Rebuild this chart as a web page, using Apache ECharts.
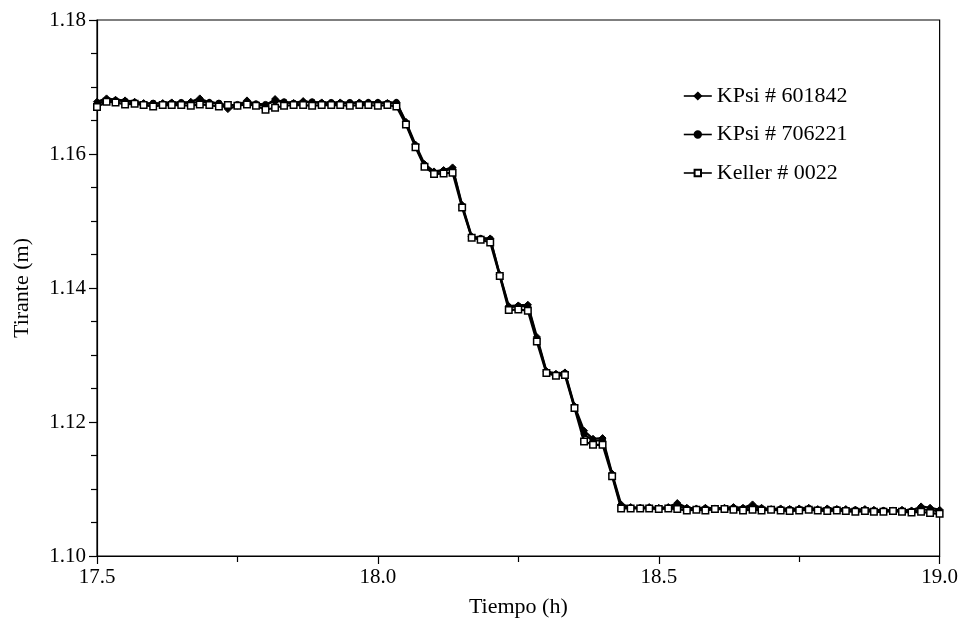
<!DOCTYPE html>
<html>
<head>
<meta charset="utf-8">
<script src="https://cdn.jsdelivr.net/npm/echarts@6/dist/echarts.min.js"></script>
<style>html,body{margin:0;padding:0;background:#fff}#c{width:961px;height:624px}</style>
</head>
<body>
<div id="c"></div>
<script>
const seriesNames = ['KPsi # 601842', 'KPsi # 706221', 'Keller # 0022'];
const xTicks = [17.5, 18.0, 18.5, 19.0];
const yTicks = [1.10, 1.12, 1.14, 1.16, 1.18];
const times = [
  17.500,17.517,17.533,17.550,17.567,17.583,
  17.600,17.617,17.633,17.650,17.667,17.683,
  17.700,17.717,17.733,17.750,17.767,17.783,
  17.800,17.817,17.833,17.850,17.867,17.883,
  17.900,17.917,17.933,17.950,17.967,17.983,
  18.000,18.017,18.033,18.050,18.067,18.083,
  18.100,18.117,18.133,18.150,18.167,18.183,
  18.200,18.217,18.233,18.250,18.267,18.283,
  18.300,18.317,18.333,18.350,18.367,18.383,
  18.400,18.417,18.433,18.450,18.467,18.483,
  18.500,18.517,18.533,18.550,18.567,18.583,
  18.600,18.617,18.633,18.650,18.667,18.683,
  18.700,18.717,18.733,18.750,18.767,18.783,
  18.800,18.817,18.833,18.850,18.867,18.883,
  18.900,18.917,18.933,18.950,18.967,18.983,
  19.000
];
const kpsi601842 = [
  1.1678,1.1683,1.1681,1.1680,1.1678,1.1676,1.1675,1.1676,1.1677,1.1676,1.1678,1.1683,1.1677,1.1675,1.1667,1.1672,
  1.1680,1.1674,1.1672,1.1682,1.1677,1.1676,1.1679,1.1677,1.1677,1.1676,1.1677,1.1676,1.1677,1.1677,1.1677,1.1676,1.1677,
  1.1648,1.1614,1.1585,1.1574,1.1576,1.1580,1.1524,1.1477,1.1474,1.1474,1.1420,1.1373,1.1374,1.1375,1.1327,1.1276,
  1.1272,1.1274,1.1224,1.1187,1.1175,1.1176,1.1123,1.1077,
  1.1073,1.1072,1.1073,1.1072,1.1073,1.1079,1.1072,1.1071,1.1072,1.1071,1.1072,1.1073,1.1072,1.1077,1.1072,1.1070,
  1.1071,1.1070,1.1071,1.1072,1.1070,1.1071,1.1070,1.1070,1.1069,1.1070,1.1069,1.1068,1.1068,1.1069,1.1068,1.1074,
  1.1072,1.1069
];
const kpsi706221 = [
  1.1674,1.1681,1.1680,1.1679,1.1677,1.1675,1.1676,1.1675,1.1676,1.1677,1.1676,1.1678,1.1677,1.1676,1.1672,1.1674,
  1.1677,1.1675,1.1674,1.1679,1.1678,1.1676,1.1677,1.1678,1.1676,1.1677,1.1676,1.1677,1.1676,1.1677,1.1677,1.1676,1.1677,
  1.1646,1.1612,1.1583,1.1572,1.1575,1.1578,1.1522,1.1476,1.1474,1.1473,1.1419,1.1371,1.1373,1.1373,1.1324,1.1275,
  1.1271,1.1273,1.1222,1.1182,1.1172,1.1173,1.1121,1.1074,
  1.1072,1.1072,1.1072,1.1071,1.1072,1.1074,1.1071,1.1070,1.1071,1.1071,1.1071,1.1072,1.1071,1.1073,1.1071,1.1069,
  1.1070,1.1070,1.1070,1.1071,1.1069,1.1070,1.1070,1.1069,1.1069,1.1069,1.1068,1.1068,1.1068,1.1068,1.1067,1.1069,
  1.1069,1.1066
];
const keller0022 = [
  1.1670,1.1678,1.1677,1.1674,1.1675,1.1673,1.1671,1.1673,1.1673,1.1673,1.1672,1.1674,1.1673,1.1671,1.1673,1.1672,
  1.1674,1.1672,1.1666,1.1669,1.1672,1.1673,1.1673,1.1672,1.1673,1.1673,1.1673,1.1672,1.1673,1.1673,1.1672,1.1673,1.1671,
  1.1644,1.1610,1.1581,1.1570,1.1571,1.1572,1.1520,1.1475,1.1472,1.1468,1.1418,1.1367,1.1368,1.1366,1.1320,1.1273,
  1.1269,1.1270,1.1221,1.1171,1.1166,1.1166,1.1119,1.1071,
  1.1071,1.1071,1.1071,1.1070,1.1071,1.1070,1.1068,1.1069,1.1068,1.1070,1.1070,1.1069,1.1068,1.1069,1.1068,1.1069,
  1.1068,1.1067,1.1068,1.1069,1.1068,1.1067,1.1068,1.1067,1.1066,1.1067,1.1066,1.1066,1.1067,1.1066,1.1065,1.1066,
  1.1064,1.1063
];

const FONT = 'Liberation Serif';
const pair = (xs, ys) => xs.map((x, i) => [x, ys[i]]);
const values = [kpsi601842, kpsi706221, keller0022];
const symbols = ['diamond', 'circle', 'rect'];
const symSizes = [7, 6, 6.5];
const fills = ['#000', '#000', '#fff'];

const chart = echarts.init(document.getElementById('c'), null, {renderer: 'canvas'});
chart.setOption({
  animation: false,
  backgroundColor: '#fff',
  grid: {left: 97, right: 20, top: 20, bottom: 68, show: true, borderColor: '#000', borderWidth: 1.2},
  legend: {
    orient: 'vertical', left: 683, top: 85, padding: 0, itemGap: 16.5, itemWidth: 28, itemHeight: 8,
    data: seriesNames,
    textStyle: {fontFamily: FONT, fontSize: 22, color: '#000'},
    lineStyle: {width: 1.6}
  },
  xAxis: {
    type: 'value', min: xTicks[0], max: xTicks[xTicks.length - 1], interval: 0.5,
    name: 'Tiempo (h)', nameLocation: 'middle', nameGap: 40,
    nameTextStyle: {fontFamily: FONT, fontSize: 22, color: '#000'},
    axisLine: {onZero: false, lineStyle: {color: '#000', width: 1.2}},
    axisTick: {show: true, length: 8, lineStyle: {color: '#000', width: 1.2}},
    minorTick: {show: true, splitNumber: 2, length: 6, lineStyle: {color: '#000', width: 1.2}},
    splitLine: {show: false},
    axisLabel: {margin: 11, fontFamily: FONT, fontSize: 21, color: '#000', formatter: v => v.toFixed(1), showMinLabel: true, showMaxLabel: true}
  },
  yAxis: {
    type: 'value', min: yTicks[0], max: yTicks[yTicks.length - 1], interval: 0.02,
    name: 'Tirante (m)', nameLocation: 'middle', nameGap: 64,
    nameTextStyle: {fontFamily: FONT, fontSize: 22, color: '#000'},
    axisLine: {show: true, onZero: false, lineStyle: {color: '#000', width: 1.2}},
    axisTick: {show: true, length: 8, lineStyle: {color: '#000', width: 1.2}},
    minorTick: {show: true, splitNumber: 4, length: 6, lineStyle: {color: '#000', width: 1.2}},
    splitLine: {show: false},
    axisLabel: {margin: 11, fontFamily: FONT, fontSize: 21, color: '#000', formatter: v => v.toFixed(2)}
  },
  series: seriesNames.map((n, k) => ({
    name: n, type: 'line', data: pair(times, values[k]),
    symbol: symbols[k], symbolSize: symSizes[k], showSymbol: true,
    lineStyle: {color: '#000', width: 2.2},
    itemStyle: {color: fills[k], borderColor: '#000', borderWidth: k === 2 ? 1.5 : 1}
  }))
});
</script>
</body>
</html>
